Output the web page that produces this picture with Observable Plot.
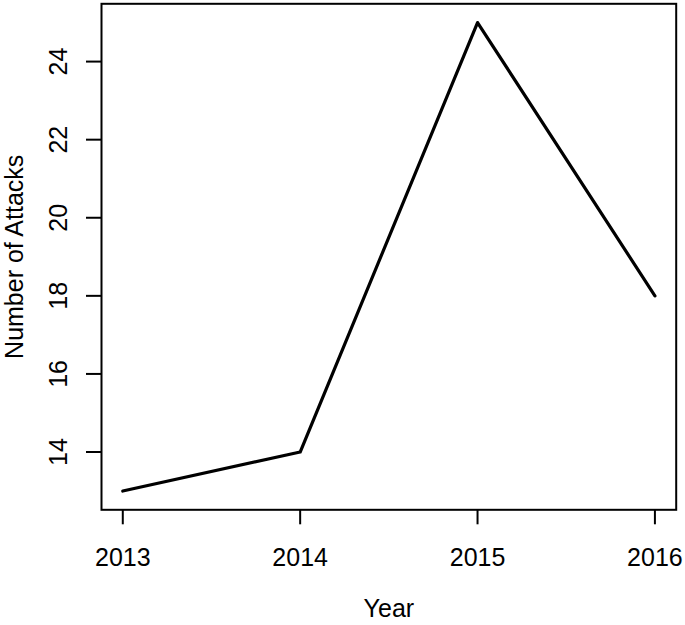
<!DOCTYPE html>
<html>
<head>
<meta charset="utf-8">
<script src="https://cdn.jsdelivr.net/npm/d3@7"></script>
<script src="https://cdn.jsdelivr.net/npm/@observablehq/plot@0.6"></script>
<style>
  html, body { margin: 0; padding: 0; background: white; }
</style>
</head>
<body>
<div id="chart"></div>
<script>
const years = [2013, 2014, 2015, 2016];
const attacks = [13, 14, 25, 18];
const yTicks = [14, 16, 18, 20, 22, 24];
const xTitle = "Year";
const yTitle = "Number of Attacks";

const data = years.map((y, i) => ({year: y, attacks: attacks[i]}));
const font = "'Liberation Sans', Arial, Helvetica, sans-serif";
const fs = 25;

const chart = Plot.plot({
  width: 685,
  height: 625,
  marginLeft: 101,
  marginRight: 9.3,
  marginTop: 3.3,
  marginBottom: 115.7,
  x: {domain: [2012.88, 2016.12]},
  y: {domain: [12.52, 25.48]},
  style: {fontFamily: font, fontSize: fs + "px", background: "white", color: "black"},
  marks: [
    Plot.frame({stroke: "black", strokeWidth: 2}),
    Plot.axisX(years, {tickSize: 15, tickFormat: () => "", label: null, strokeWidth: 2}),
    Plot.axisY(yTicks, {tickSize: 15, tickFormat: () => "", label: null, strokeWidth: 2}),
    Plot.text(years, {x: d => d, text: d => String(d), frameAnchor: "bottom", lineAnchor: "bottom", dy: 56, fontSize: fs, fill: "black"}),
    Plot.text(yTicks, {y: d => d, text: d => String(d), frameAnchor: "left", lineAnchor: "bottom", textAnchor: "middle", rotate: -90, dx: -35, fontSize: fs, fill: "black"}),
    Plot.text([xTitle], {text: d => d, frameAnchor: "bottom", lineAnchor: "bottom", dy: 107, fontSize: fs, fill: "black"}),
    Plot.text([yTitle], {text: d => d, frameAnchor: "left", lineAnchor: "bottom", textAnchor: "middle", rotate: -90, dx: -79, fontSize: fs, fill: "black"}),
    Plot.line(data, {x: "year", y: "attacks", stroke: "black", strokeWidth: 3.2, strokeLinejoin: "round", strokeLinecap: "round"})
  ]
});
document.getElementById("chart").appendChild(chart);
</script>
</body>
</html>
